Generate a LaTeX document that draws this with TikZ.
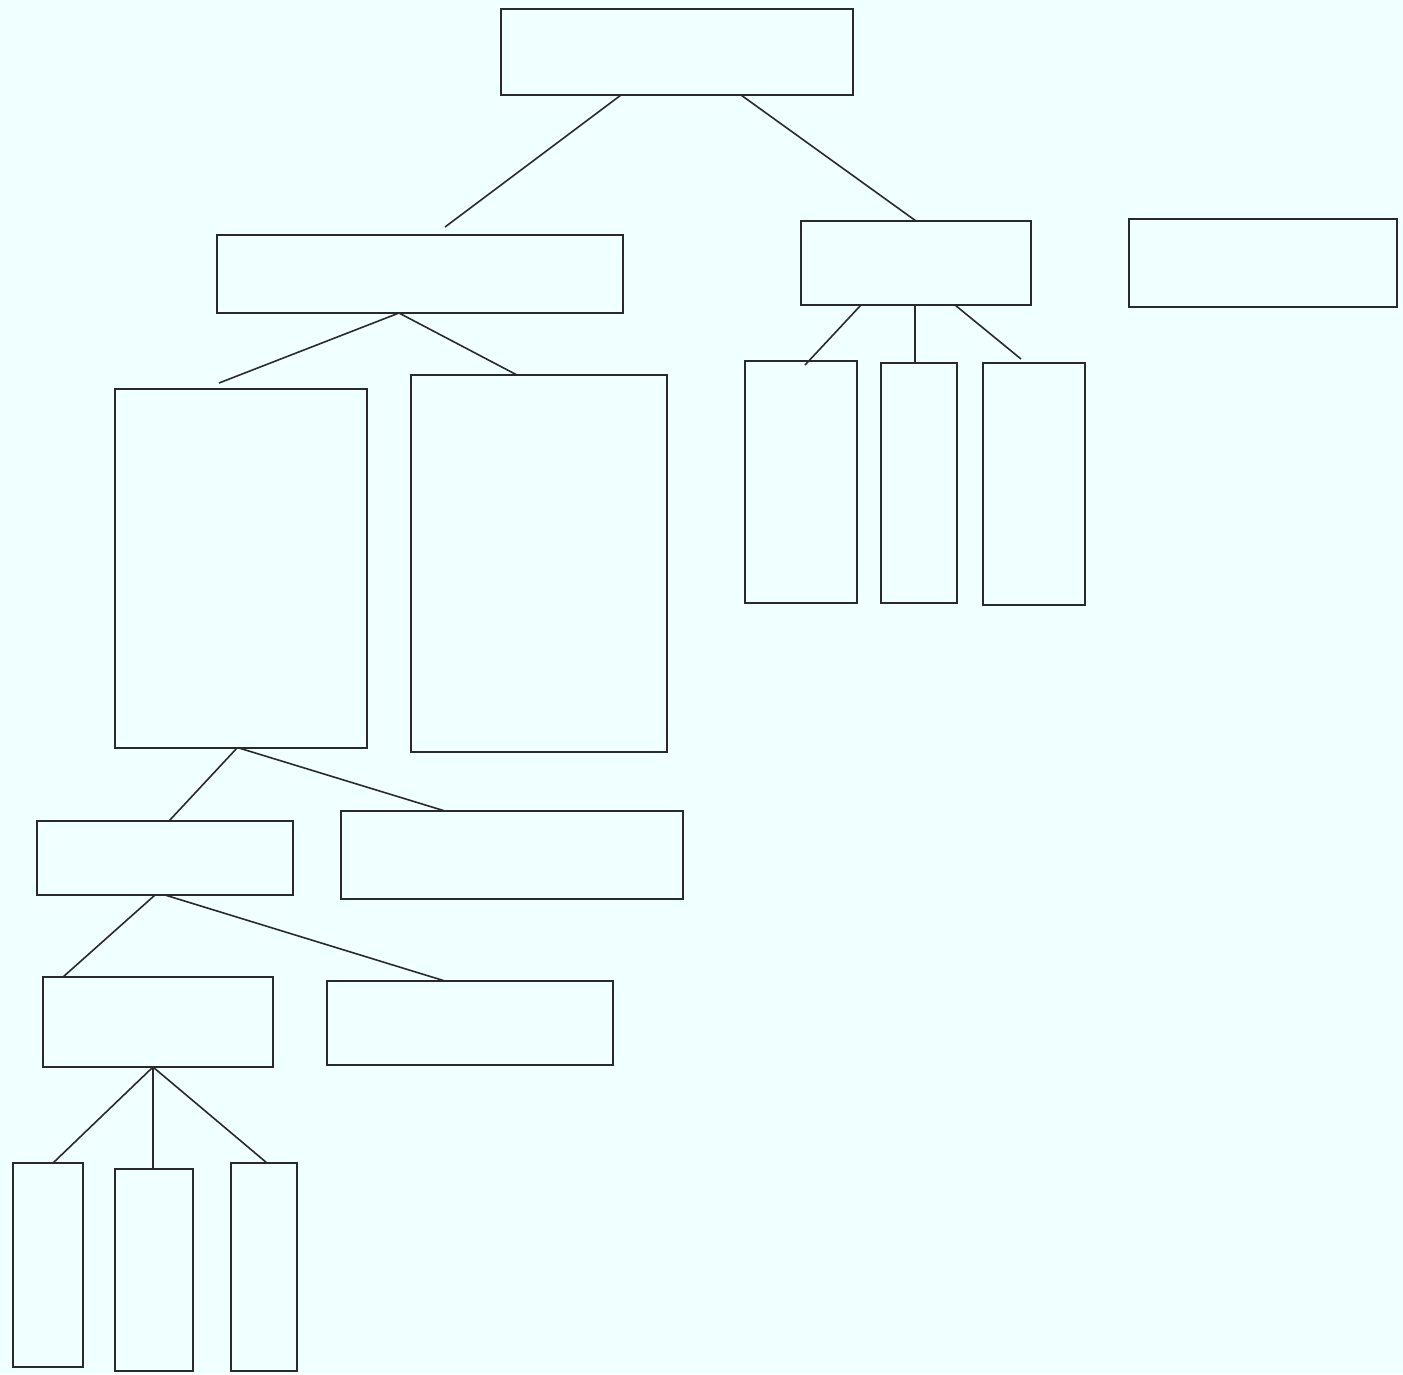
\documentclass[tikz,border=0pt]{standalone}
\usepackage{xcolor}
\usepackage{tikz}
\usetikzlibrary{calc}
\definecolor{paleazure}{HTML}{F0FFFF}
\definecolor{inkgray}{HTML}{2A2A2A}

\begin{document}
\begin{tikzpicture}[x=0.02cm, y=-0.02cm,
    box/.style={draw=inkgray, line width=0.045cm, fill=paleazure, inner sep=0pt, outer sep=0pt},
    link/.style={draw=inkgray, line width=0.032cm}]
  % page background
  \fill[paleazure] (0,0) rectangle (1403,1374);
  % top level
  \node[box, minimum width=352*0.02cm, minimum height=86*0.02cm] (root) at (677,52) {};
  % second level
  \node[box, minimum width=406*0.02cm, minimum height=78*0.02cm] (left) at (420,274) {};
  \node[box, minimum width=230*0.02cm, minimum height=84*0.02cm] (right) at (916,263) {};
  \node[box, minimum width=268*0.02cm, minimum height=88*0.02cm] (aside) at (1263,263) {};
  % under the left box
  \node[box, minimum width=252*0.02cm, minimum height=359*0.02cm] (leftA) at (241,568.5) {};
  \node[box, minimum width=256*0.02cm, minimum height=377*0.02cm] (leftB) at (539,563.5) {};
  % under the right box
  \node[box, minimum width=112*0.02cm, minimum height=242*0.02cm] (rightA) at (801,482) {};
  \node[box, minimum width=76*0.02cm, minimum height=240*0.02cm] (rightB) at (919,483) {};
  \node[box, minimum width=102*0.02cm, minimum height=242*0.02cm] (rightC) at (1034,484) {};
  % fourth level
  \node[box, minimum width=256*0.02cm, minimum height=74*0.02cm] (midA) at (165,858) {};
  \node[box, minimum width=342*0.02cm, minimum height=88*0.02cm] (midB) at (512,855) {};
  % fifth level
  \node[box, minimum width=230*0.02cm, minimum height=90*0.02cm] (lowA) at (158,1022) {};
  \node[box, minimum width=286*0.02cm, minimum height=84*0.02cm] (lowB) at (470,1023) {};
  % bottom row
  \node[box, minimum width=70*0.02cm, minimum height=204*0.02cm] (leafA) at (48,1265) {};
  \node[box, minimum width=78*0.02cm, minimum height=202*0.02cm] (leafB) at (154,1270) {};
  \node[box, minimum width=66*0.02cm, minimum height=208*0.02cm] (leafC) at (264,1267) {};
  % connectors
  \draw[link] ($(root.south)+(-56,0)$) -- ($(left.north)+(25,-8)$);
  \draw[link] ($(root.south)+(64,0)$) -- (right.north);
  \draw[link] ($(left.south)+(-21,0)$) -- ($(leftA.north)+(-22,-6)$);
  \draw[link] ($(left.south)+(-21,0)$) -- ($(leftB.north)+(-22,0)$);
  \draw[link] ($(right.south)+(-55,0)$) -- ($(rightA.north)+(4,4)$);
  \draw[link] ($(right.south)+(-1,0)$) -- ($(rightB.north)+(-4,0)$);
  \draw[link] ($(right.south)+(39,0)$) -- ($(rightC.north)+(-13,-4)$);
  \draw[link] ($(leftA.south)+(-4,0)$) -- ($(midA.north)+(4,0)$);
  \draw[link] ($(leftA.south)+(-2,0)$) -- ($(midB.north)+(-67,0)$);
  \draw[link] ($(midA.south)+(-10,0)$) -- ($(lowA.north)+(-95,0)$);
  \draw[link] (midA.south) -- ($(lowB.north)+(-25,0)$);
  \draw[link] ($(lowA.south)+(-5,0)$) -- ($(leafA.north)+(5,0)$);
  \draw[link] ($(lowA.south)+(-5,0)$) -- ($(leafB.north)+(-1,0)$);
  \draw[link] ($(lowA.south)+(-5,0)$) -- ($(leafC.north)+(3,0)$);
\end{tikzpicture}
\end{document}
